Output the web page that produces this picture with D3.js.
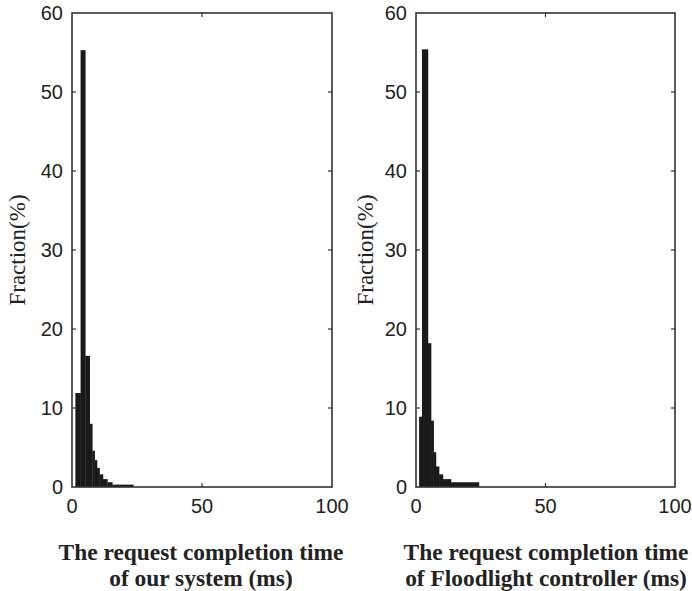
<!DOCTYPE html>
<html>
<head>
<meta charset="utf-8">
<script src="https://cdn.jsdelivr.net/npm/d3@7"></script>
<style>
  body { margin: 0; background: #fff; }
  svg { display: block; }
</style>
</head>
<body>
<div id="chart"></div>
<script>
// histogram bin edges (ms) and fractions (%)
const ourEdges = [1.3, 3.3, 5.1, 6.8, 7.8, 8.7, 9.6, 10.6, 11.9, 13.6, 15.5, 23.6];
const ourFraction = [11.9, 55.3, 16.6, 8.0, 4.6, 3.4, 2.4, 1.6, 1.0, 0.6, 0.3];

const floodEdges = [1.2, 2.3, 4.6, 5.8, 6.8, 7.7, 8.9, 10.4, 13.5, 24.3];
const floodFraction = [8.9, 55.4, 18.2, 8.4, 4.4, 2.6, 1.6, 1.0, 0.6, 0.3];

const xTicks = [0, 50, 100];
const yTicks = [0, 10, 20, 30, 40, 50, 60];
const yLabel = "Fraction(%)";
const titles = [
  ["The request completion time", "of our system (ms)"],
  ["The request completion time", "of Floodlight controller (ms)"]
];

const W = 692, H = 591;
const svg = d3.select("#chart").append("svg")
  .attr("width", W)
  .attr("height", H);

const panels = [
  { left: 72, right: 332, edges: ourEdges, values: ourFraction, title: titles[0], labelX: 25, titleX: 201 },
  { left: 416, right: 675, edges: floodEdges, values: floodFraction, title: titles[1], labelX: 373, titleX: 546 }
];

const plotTop = 13, plotBottom = 487;

panels.forEach(p => {
  const x = d3.scaleLinear().domain([0, 100]).range([p.left, p.right]);
  const y = d3.scaleLinear().domain([0, 60]).range([plotBottom, plotTop]);

  const g = svg.append("g");

  const bins = p.values.map((v, i) => ({ x0: p.edges[i], x1: p.edges[i + 1], v: v }));

  g.selectAll(".bar")
    .data(bins)
    .enter().append("rect")
    .attr("class", "bar")
    .attr("x", d => x(d.x0))
    .attr("width", d => x(d.x1) - x(d.x0) + 0.3)
    .attr("y", d => y(d.v))
    .attr("height", d => y(0) - y(d.v))
    .attr("fill", "#1a1a1a");

  // frame
  g.append("rect")
    .attr("x", p.left)
    .attr("y", plotTop)
    .attr("width", p.right - p.left)
    .attr("height", plotBottom - plotTop)
    .attr("fill", "none")
    .attr("stroke", "#333")
    .attr("stroke-width", 1.6);

  // inner ticks, all four sides
  const tl = 4;
  g.selectAll(".ytl").data(yTicks.slice(1, -1)).enter().append("line")
    .attr("x1", p.left).attr("x2", p.left + tl)
    .attr("y1", d => y(d)).attr("y2", d => y(d))
    .attr("stroke", "#333").attr("stroke-width", 1.2);
  g.selectAll(".ytr").data(yTicks.slice(1, -1)).enter().append("line")
    .attr("x1", p.right).attr("x2", p.right - tl)
    .attr("y1", d => y(d)).attr("y2", d => y(d))
    .attr("stroke", "#333").attr("stroke-width", 1.2);
  g.selectAll(".xtb").data(xTicks.slice(1, -1)).enter().append("line")
    .attr("x1", d => x(d)).attr("x2", d => x(d))
    .attr("y1", plotBottom).attr("y2", plotBottom - tl)
    .attr("stroke", "#333").attr("stroke-width", 1.2);
  g.selectAll(".xtt").data(xTicks.slice(1, -1)).enter().append("line")
    .attr("x1", d => x(d)).attr("x2", d => x(d))
    .attr("y1", plotTop).attr("y2", plotTop + tl)
    .attr("stroke", "#333").attr("stroke-width", 1.2);

  // tick labels
  g.selectAll(".yl").data(yTicks).enter().append("text")
    .attr("x", p.left - 9)
    .attr("y", d => y(d))
    .attr("dy", "0.36em")
    .attr("text-anchor", "end")
    .style("font-family", "'Liberation Sans', Arial, sans-serif")
    .style("font-size", "20px")
    .attr("fill", "#222")
    .text(d => d);

  g.selectAll(".xl").data(xTicks).enter().append("text")
    .attr("x", d => x(d))
    .attr("y", plotBottom + 26)
    .attr("text-anchor", "middle")
    .style("font-family", "'Liberation Sans', Arial, sans-serif")
    .style("font-size", "20px")
    .attr("fill", "#222")
    .text(d => d);

  // y label
  g.append("text")
    .attr("transform", `translate(${p.labelX},${(plotTop + plotBottom) / 2}) rotate(-90)`)
    .attr("text-anchor", "middle")
    .style("font-family", "'Liberation Serif', 'Times New Roman', serif")
    .style("font-size", "23px")
    .attr("fill", "#222")
    .text(yLabel);

  // title under the plot
  g.selectAll(".title").data(p.title).enter().append("text")
    .attr("x", p.titleX)
    .attr("y", (d, i) => 560 + i * 26)
    .attr("text-anchor", "middle")
    .style("font-family", "'Liberation Serif', 'Times New Roman', serif")
    .style("font-size", "23.4px")
    .style("font-weight", "bold")
    .attr("fill", "#222")
    .text(d => d);
});
</script>
</body>
</html>
